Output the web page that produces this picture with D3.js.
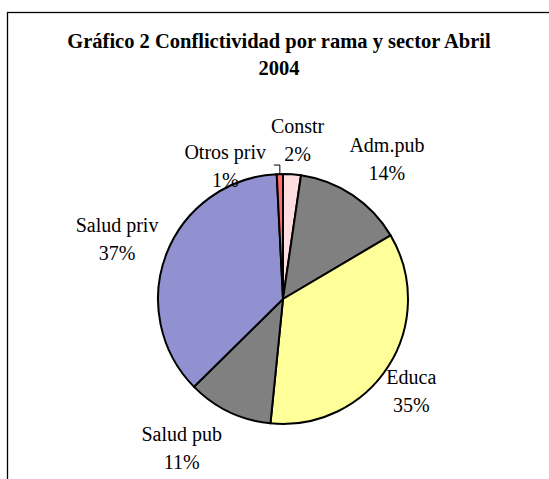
<!DOCTYPE html>
<html>
<head>
<meta charset="utf-8">
<script src="https://cdn.jsdelivr.net/npm/d3@7"></script>
<style>
  body { margin: 0; background: #fff; }
  text { font-family: "Liberation Serif", "Times New Roman", serif; fill: #000; }
</style>
</head>
<body>
<div id="chart"></div>
<script>
// data (percent of conflicts, April 2004)
const categories = ["Constr", "Adm.pub", "Educa", "Salud pub", "Salud priv", "Otros priv"];
const values = [2.3, 14.2, 35.1, 11.0, 36.6, 0.8];
const colors = ["#ffdcdf", "#808080", "#ffff99", "#808080", "#9191d1", "#ff6f6f"];
const titleLines = ["Gráfico 2 Conflictividad por rama y sector Abril", "2004"];

const width = 549, height = 479;
const cx = 283, cy = 299, radius = 125;

// label layout: radius from centre for each label, plus small nudges
const labelR = [160, 174, 157, 179, 177, 150];
const labelNudge = [[3, 0], [7, 4], [-4, 6], [-24, -13], [-1, 3], [0, 0]];

const svg = d3.select("#chart").append("svg")
    .attr("width", width)
    .attr("height", height);

// outer frame (runs off the right and bottom of the picture)
svg.append("rect")
    .attr("x", 7.5).attr("y", 12.5)
    .attr("width", 600).attr("height", 600)
    .attr("fill", "#fff")
    .attr("stroke", "#000")
    .attr("stroke-width", 1.3);

// title
svg.append("g").selectAll("text")
    .data(titleLines)
    .join("text")
    .attr("x", 279)
    .attr("y", (d, i) => 48 + i * 27)
    .attr("text-anchor", "middle")
    .attr("font-weight", "bold")
    .attr("font-size", "20.5px")
    .text(d => d);

const total = d3.sum(values);
const data = categories.map((c, i) => ({name: c, value: values[i], color: colors[i]}));

const pie = d3.pie().sort(null).value(d => d.value);
const arcs = pie(data);
const arc = d3.arc().innerRadius(0).outerRadius(radius);

const g = svg.append("g").attr("transform", `translate(${cx},${cy})`);

g.selectAll("path")
    .data(arcs)
    .join("path")
    .attr("d", arc)
    .attr("fill", d => d.data.color)
    .attr("stroke", "#000")
    .attr("stroke-width", 2)
    .attr("stroke-linejoin", "round");

const pct = d => Math.round(d.value / total * 100) + "%";
const mid = d => (d.startAngle + d.endAngle) / 2;

// label anchor points
arcs.forEach((d, i) => {
    const a = mid(d);
    let x = Math.sin(a) * labelR[i] + labelNudge[i][0];
    let y = -Math.cos(a) * labelR[i] + labelNudge[i][1];
    if (d.data.name === "Otros priv") {
        // pushed to the left of the thin slice, with a leader line
        x = Math.sin(a) * labelR[i] - 54;
        y = -Math.cos(a) * labelR[i] + 16;
    }
    d.lx = x; d.ly = y;
});

const labels = g.selectAll("text.lbl")
    .data(arcs)
    .join("text")
    .attr("class", "lbl")
    .attr("text-anchor", "middle")
    .attr("font-size", "20px");
labels.append("tspan")
    .attr("x", d => d.lx)
    .attr("y", d => d.ly - 6)
    .text(d => d.data.name);
labels.append("tspan")
    .attr("x", d => d.lx)
    .attr("y", d => d.ly + 22)
    .text(d => pct(d.data));

// leader line for the thin slice
const thin = arcs[arcs.length - 1];
const a0 = mid(thin);
const px = Math.sin(a0) * radius, py = -Math.cos(a0) * radius;
g.append("path")
    .attr("d", d3.line()([[px, py], [px, py - 9], [px - 6, py - 9]]))
    .attr("fill", "none")
    .attr("stroke", "#000")
    .attr("stroke-width", 1);
</script>
</body>
</html>
